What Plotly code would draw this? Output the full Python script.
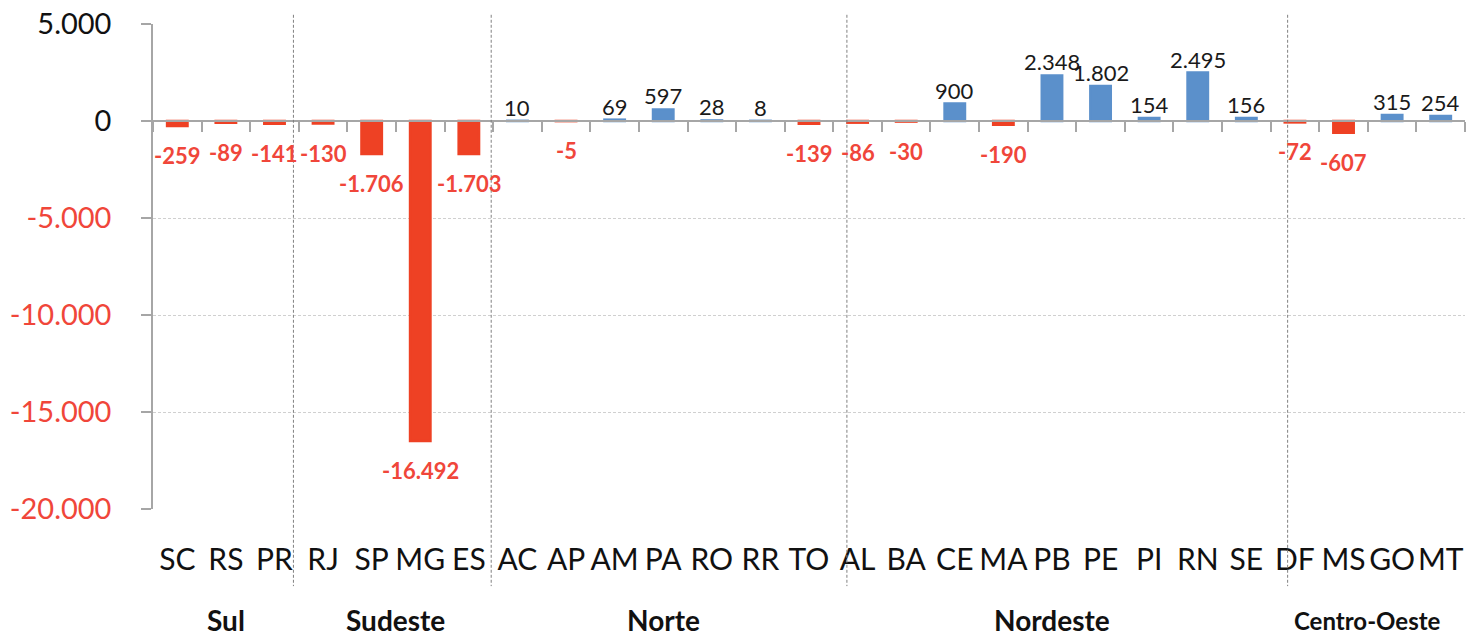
import plotly.graph_objects as go

states = ["SC", "RS", "PR", "RJ", "SP", "MG", "ES", "AC", "AP", "AM", "PA", "RO", "RR", "TO",
          "AL", "BA", "CE", "MA", "PB", "PE", "PI", "RN", "SE", "DF", "MS", "GO", "MT"]
values = [-259, -89, -141, -130, -1706, -16492, -1703, 10, -5, 69, 597, 28, 8, -139,
          -86, -30, 900, -190, 2348, 1802, 154, 2495, 156, -72, -607, 315, 254]
regions = ["Sul", "Sudeste", "Norte", "Nordeste", "Centro-Oeste"]
region_sizes = [3, 4, 7, 9, 4]
y_ticks = [5000, 0, -5000, -10000, -15000, -20000]

RED_BAR = "#EE4124"
RED_TXT = "#F0463A"
BLUE_BAR = "#5B90CB"
GRAY = "#A6A6A6"
FONT = "Lato"


def fmt(v):
    return f"{v:,}".replace(",", ".")


n = len(states)
colors = [RED_BAR if v < 0 else BLUE_BAR for v in values]

fig = go.Figure()
fig.add_trace(go.Bar(
    x=states, y=values,
    marker=dict(color=colors, line=dict(color=colors, width=2.5)),
    width=0.42, showlegend=False, hoverinfo="x+y",
))
# helper trace carrying the zero-line axis (tick marks at category boundaries)
fig.add_trace(go.Scatter(
    x=list(range(n)), y=values, xaxis="x2", mode="markers",
    marker=dict(opacity=0), hoverinfo="skip", showlegend=False,
))

annotations = []
for s, v in zip(states, values):
    if v < 0:
        annotations.append(dict(x=s, y=v, xref="x", yref="y", text=fmt(v), showarrow=False,
                                yanchor="top", yshift=-14,
                                font=dict(family=FONT, size=22, color=RED_TXT, weight="bold")))
    else:
        annotations.append(dict(x=s, y=v, xref="x", yref="y", text=fmt(v), showarrow=False,
                                yanchor="bottom", yshift=-2,
                                font=dict(family=FONT, size=22, color="#1a1a1a")))

# region labels and separators
sep_offsets = [-0.11, -0.04, 0.28, 0.35]
shapes = []
start = 0
for i, (name, size) in enumerate(zip(regions, region_sizes)):
    center = start + (size - 1) / 2
    annotations.append(dict(x=center, y=-0.229, xref="x2", yref="paper", text="<b>%s</b>" % name,
                            showarrow=False, yanchor="middle",
                            font=dict(family=FONT, size=24 if name == "Centro-Oeste" else 28,
                                      color="#111111")))
    start += size
    if i < len(regions) - 1:
        bx = start - 0.5 + sep_offsets[i]
        shapes.append(dict(type="line", xref="x2", yref="paper", x0=bx, x1=bx, y0=1.019, y1=-0.159,
                           line=dict(color="#808080", width=1, dash="3px,2px")))

tick_text = []
for v in y_ticks:
    c = RED_TXT if v < 0 else "#111111"
    tick_text.append('<span style="color:%s">%s</span>' % (c, fmt(v)))

fig.update_layout(
    width=1467, height=637,
    margin=dict(l=153, r=2, t=24, b=128),
    paper_bgcolor="white", plot_bgcolor="white",
    font=dict(family=FONT, color="#111111"),
    xaxis=dict(type="category", categoryorder="array", categoryarray=states,
               range=[-0.5, n - 0.5], showline=False, showgrid=False, zeroline=False,
               ticks="outside", ticklen=24, tickcolor="rgba(0,0,0,0)",
               tickfont=dict(family=FONT, size=30, color="#111111"), fixedrange=True),
    xaxis2=dict(overlaying="x", anchor="free", position=0.8, range=[-0.5, n - 0.5],
                tickmode="array", tickvals=[i - 0.5 for i in range(n + 1)],
                showticklabels=False, ticks="outside", ticklen=10, tickcolor=GRAY, tickwidth=1.5,
                showline=True, linecolor=GRAY, linewidth=1.5, showgrid=False, zeroline=False),
    yaxis=dict(range=[-20000, 5000], tickmode="array", tickvals=y_ticks, ticktext=tick_text,
               showline=True, linecolor=GRAY, linewidth=1.5, ticks="outside", ticklen=10,
               tickcolor=GRAY, tickwidth=1.5, ticklabelstandoff=24,
               showgrid=True, gridcolor="#D0D0D0", gridwidth=1, griddash="3px,2px",
               zeroline=False, tickfont=dict(family=FONT, size=29)),
    annotations=annotations,
    shapes=shapes,
)

fig.write_html("out.html", config={"displayModeBar": False},
               post_script="document.body.style.margin='0';")
